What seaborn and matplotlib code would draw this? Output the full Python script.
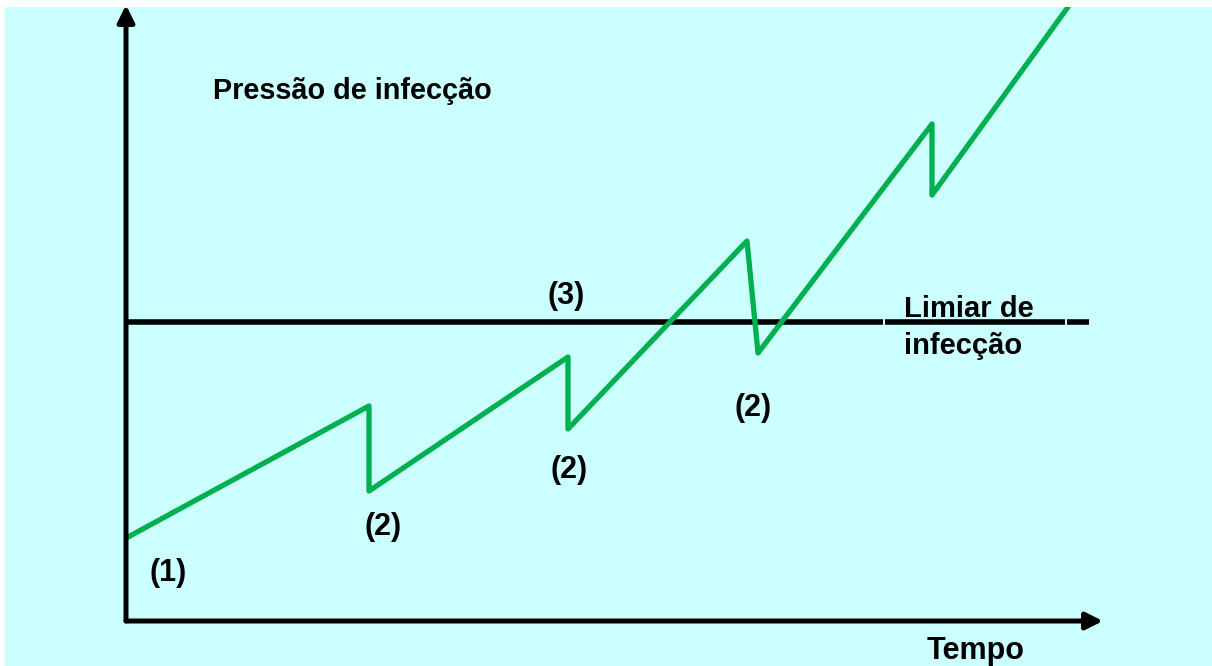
import matplotlib
matplotlib.use("Agg")
import matplotlib.pyplot as plt
import seaborn as sns
import pandas as pd

# ---- data (arbitrary units) ----
tempo = [0.02, 2.43, 2.43, 4.42, 4.42, 6.21, 6.32, 8.06, 8.06, 9.42]
pressao = [0.84, 2.15, 1.30, 2.64, 1.92, 3.80, 2.68, 4.97, 4.26, 6.14]
limiar = 2.99
limiar_segmentos = [(0.0, 7.57), (7.59, 9.39), (9.41, 9.63)]
rotulos_2 = ["(2)", "(2)", "(2)"]
titulo_y = "Pressão de infecção"
titulo_x = "Tempo"
titulo_limiar = "Limiar de\ninfecção"

sns.set_theme(style="white")
plt.rcParams["font.family"] = ["Liberation Sans", "DejaVu Sans"]

fig = plt.figure(figsize=(12.12, 6.66), dpi=100)
fig.patch.set_facecolor("white")
ax = fig.add_axes([5 / 1212, 0, 1207 / 1212, 659 / 666])
ax.set_facecolor("#CCFFFF")
ax.set_xlim(-1.21, 10.86)
ax.set_ylim(-0.45, 6.14)
for s in ax.spines.values():
    s.set_visible(False)
ax.set_xticks([])
ax.set_yticks([])

df = pd.DataFrame({"tempo": tempo, "pressao": pressao})
sns.lineplot(data=df, x="tempo", y="pressao", sort=False, estimator=None,
             color="#00B050", lw=3.8, ax=ax, zorder=4)
ax.set_xlabel("")
ax.set_ylabel("")

# threshold line
for a, b in limiar_segmentos:
    ax.plot([a, b], [limiar, limiar], color="black", lw=4, solid_capstyle="butt", zorder=3)

# axes arrows
arrow_kw = dict(arrowstyle="-|>,head_length=1.0,head_width=0.5", lw=3.6,
                color="black", mutation_scale=10, shrinkA=0, shrinkB=0)
ax.annotate("", xy=(0, 6.16), xytext=(0, 0), arrowprops=arrow_kw,
            annotation_clip=False, zorder=5)
ax.annotate("", xy=(9.77, 0), xytext=(0, 0), arrowprops=arrow_kw,
            annotation_clip=False, zorder=5)

tkw = dict(fontweight="bold", color="black", zorder=6)
ax.text(0.87, 5.22, titulo_y, ha="left", va="baseline", fontsize=20.8, **tkw)
ax.text(8.01, -0.38, titulo_x, ha="left", va="baseline", fontsize=22, **tkw)
lim1, lim2 = titulo_limiar.split("\n")
ax.text(7.78, 3.04, lim1, ha="left", va="baseline", fontsize=21, **tkw)
ax.text(7.78, 2.67, lim2, ha="left", va="baseline", fontsize=21, **tkw)
ax.text(4.40, 3.25, "(3)", ha="center", va="center", fontsize=22, **tkw)
ax.text(0.42, 0.48, "(1)", ha="center", va="center", fontsize=22, **tkw)
for lab, (x, y) in zip(rotulos_2, [(2.57, 0.94), (4.43, 1.51), (6.27, 2.13)]):
    ax.text(x, y, lab, ha="center", va="center", fontsize=22, **tkw)

fig.savefig("out.png", dpi=100, facecolor="white")
